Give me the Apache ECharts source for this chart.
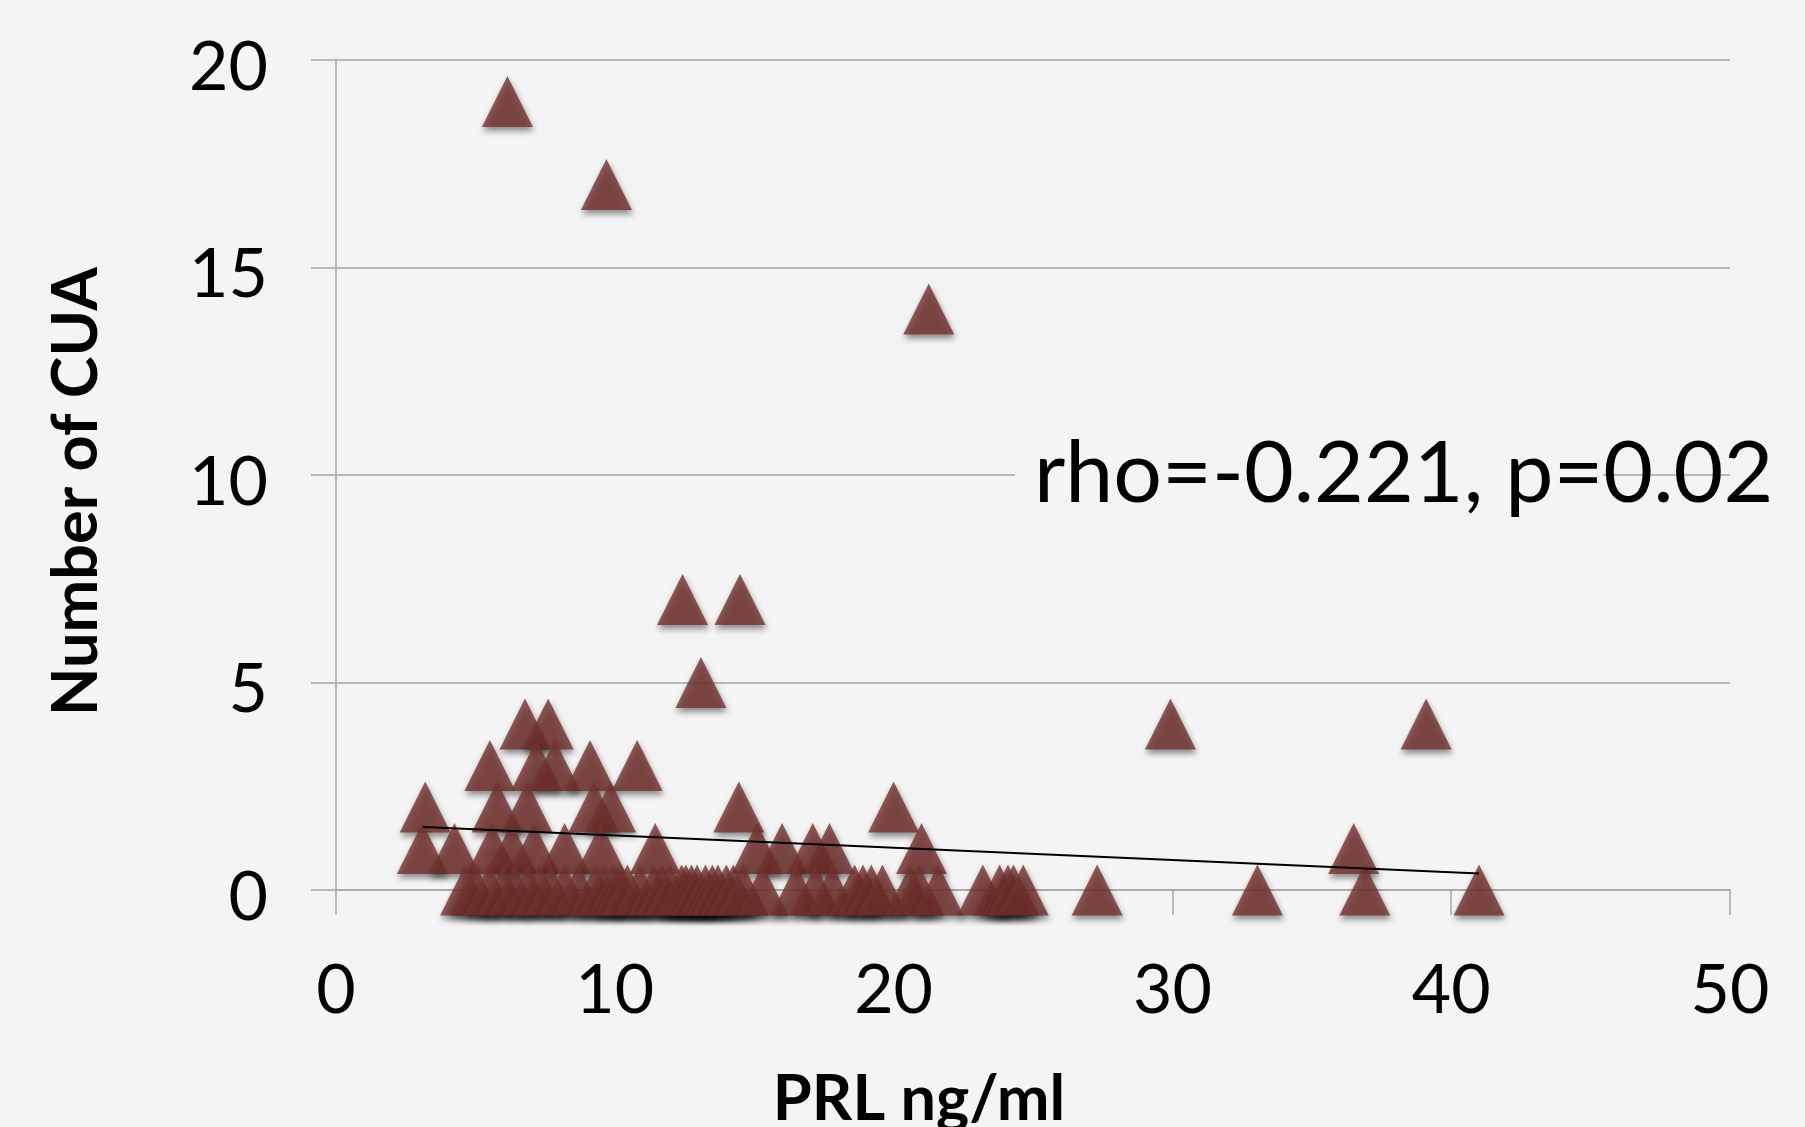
<!DOCTYPE html>
<html>
<head>
<meta charset="utf-8">
<script src="https://cdn.jsdelivr.net/npm/echarts@6/dist/echarts.min.js"></script>
<style>
html, body { margin: 0; padding: 0; background: #f4f4f4; }
#chart { width: 1805px; height: 1127px; }
</style>
</head>
<body>
<div id="chart"></div>
<script>
// PRL (ng/ml) for each patient
const prlValues = [
  6.15, 9.7, 21.26, 12.43, 14.49, 13.09, 29.93, 39.1,
  6.78, 7.61,
  5.52, 7.19, 7.85, 9.11, 10.8,
  3.2, 5.78, 6.85, 9.25, 9.85, 14.45, 20.0,
  3.1, 4.25, 5.6, 6.3, 7.1, 8.2, 9.5, 11.45, 15.1, 16.0, 17.1, 17.7, 21.0, 36.5,
  4.65, 5.0, 5.5, 6.0, 6.4, 6.9, 7.3, 7.7, 8.2, 8.7, 9.3, 9.6, 9.95, 10.2, 10.45,
  10.9, 11.4, 11.7, 12.0, 12.4, 12.55, 12.75, 12.95, 13.25, 13.5, 13.7, 14.0, 14.25,
  14.6, 15.3, 16.5, 17.2, 17.8, 18.6, 18.9, 19.2, 19.6, 20.6, 20.9, 21.6,
  23.2, 23.8, 24.1, 24.3, 24.65, 27.3, 33.05, 36.9, 41.0
];
// Number of CUA for each patient
const cuaValues = [
  19, 17, 14, 7, 7, 5, 4, 4,
  4, 4,
  3, 3, 3, 3, 3,
  2, 2, 2, 2, 2, 2, 2,
  1, 1, 1, 1, 1, 1, 1, 1, 1, 1, 1, 1, 1, 1,
  0, 0, 0, 0, 0, 0, 0, 0, 0, 0, 0, 0, 0, 0, 0,
  0, 0, 0, 0, 0, 0, 0, 0, 0, 0, 0, 0, 0,
  0, 0, 0, 0, 0, 0, 0, 0, 0, 0, 0, 0,
  0, 0, 0, 0, 0, 0, 0, 0, 0
];
// Linear trend line end points
const trendX = [3.13, 41.0];
const trendY = [1.52, 0.40];

const xTicks = [0, 10, 20, 30, 40, 50];
const yTicks = [0, 5, 10, 15, 20];
const xTitle = 'PRL ng/ml';
const yTitle = 'Number of CUA';
const annotationLead = 'rho=-0.221, p=';
const annotationTail = '0.02';

const points = prlValues.map((x, i) => [x, cuaValues[i]]);
const trend = trendX.map((x, i) => [x, trendY[i]]);

const gridColor = '#a6a6a6';
const chart = echarts.init(document.getElementById('chart'), null, { renderer: 'canvas' });

chart.setOption({
  animation: false,
  backgroundColor: '#f4f4f4',
  grid: { left: 336, right: 75, top: 60, bottom: 237, containLabel: false, outerBoundsMode: 'none' },
  xAxis: {
    type: 'value',
    min: xTicks[0],
    max: xTicks[xTicks.length - 1],
    interval: 10,
    splitLine: { show: false },
    axisLine: { show: true, onZero: false, lineStyle: { color: gridColor, width: 1.5 } },
    axisTick: { show: true, inside: false, length: 25, lineStyle: { color: gridColor, width: 1.5 } },
    axisLabel: { margin: 67, color: '#000', fontFamily: 'Lato', fontSize: 68 },
    name: xTitle,
    nameLocation: 'middle',
    nameGap: 210,
    nameTextStyle: {
      fontFamily: 'Lato', fontWeight: 'bold', fontSize: 63, color: '#000',
      verticalAlign: 'middle', padding: [0, 228, 0, 0]
    }
  },
  yAxis: {
    type: 'value',
    min: yTicks[0],
    max: yTicks[yTicks.length - 1],
    interval: 5,
    splitLine: { show: true, lineStyle: { color: gridColor, width: 1.5 } },
    axisLine: { show: true, lineStyle: { color: gridColor, width: 1.5 } },
    axisTick: { show: true, inside: false, length: 25, lineStyle: { color: gridColor, width: 1.5 } },
    axisLabel: {
      margin: 68, color: '#000', fontFamily: 'Lato', fontSize: 68,
      verticalAlign: 'top', lineHeight: 16
    },
    name: yTitle,
    nameLocation: 'middle',
    nameGap: 259,
    nameTextStyle: {
      fontFamily: 'Lato', fontWeight: 'bold', fontSize: 63, color: '#000',
      verticalAlign: 'middle', padding: [0, 33, 0, 0]
    }
  },
  graphic: [{
    type: 'text',
    z: 50,
    style: {
      x: 1015,
      y: 474,
      text: '{a|' + annotationLead + '}{b|' + annotationTail + '}',
      align: 'left',
      verticalAlign: 'middle',
      rich: {
        a: { fontFamily: 'Lato', fontSize: 86, fill: '#000', backgroundColor: '#f4f4f4', padding: [0, 0, 0, 19] },
        b: { fontFamily: 'Lato', fontSize: 86, fill: '#000' }
      }
    }
  }],
  series: [
    {
      type: 'scatter',
      data: points,
      symbol: 'triangle',
      symbolSize: 51,
      z: 3,
      itemStyle: {
        color: '#74322e',
        shadowColor: 'rgba(0,0,0,0.55)',
        shadowBlur: 6,
        shadowOffsetX: 1,
        shadowOffsetY: 4
      },
      emphasis: { disabled: true }
    },
    {
      type: 'line',
      data: trend,
      showSymbol: false,
      symbol: 'none',
      z: 5,
      lineStyle: { color: '#000', width: 2 },
      emphasis: { disabled: true }
    }
  ]
});
</script>
</body>
</html>
